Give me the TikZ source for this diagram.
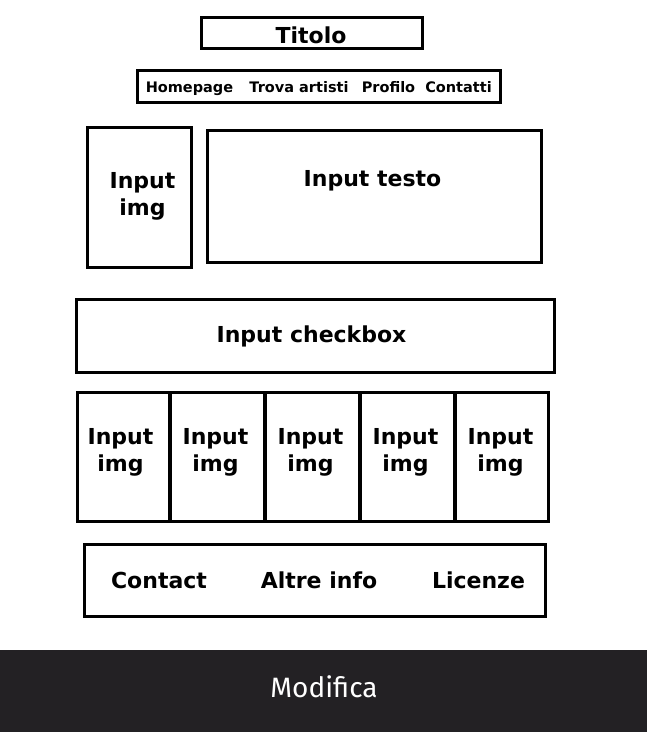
\documentclass[tikz,border=0pt]{standalone}
\usepackage{fontspec}
\setmainfont{DejaVu Sans}
\newfontfamily\btnfont{Fira Sans}
\usetikzlibrary{positioning}
\definecolor{bar}{RGB}{35,33,36}
\tikzset{
    % frame of a block
    box/.style={
        draw=black,
        line width=3.4pt,
        inner sep=0pt,
    },
    % big bold label
    lbl/.style={
        font=\fontsize{22}{27}\selectfont\bfseries,
        align=center,
        inner sep=0pt,
        anchor=base,
    },
    % menu entry
    navlbl/.style={
        font=\fontsize{14.5}{17}\selectfont\bfseries,
        inner sep=0pt,
        anchor=base,
    },
}

\begin{document}
\begin{tikzpicture}[x=1pt, y=-1pt]
    \useasboundingbox (0,0) rectangle (647,732);

    % Header
    \node[box, minimum width=221pt, minimum height=31pt] (title) at (312,33) {};
    \node[lbl] (titlelbl) at (311,43) {Titolo};

    \node[box, minimum width=363pt, minimum height=32pt] (nav) at (319,86.5) {};
    \node[navlbl] (home) at (189.5,92) {Homepage};
    \node[navlbl] (artisti) at (299,92) {Trova artisti};
    \node[navlbl] (profilo) at (388.5,92) {Profilo};
    \node[navlbl] (contatti) at (458.5,92) {Contatti};

    % Image and text inputs
    \node[box, minimum width=104pt, minimum height=140pt] (img) at (139.5,197.5) {};
    \node[lbl] (imglbl) at (142.5,215) {Input\\img};

    \node[box, minimum width=334pt, minimum height=132pt] (testo) at (374.5,196.5) {};
    \node[lbl] (testolbl) at (372.5,186) {Input testo};

    \node[box, minimum width=478pt, minimum height=73pt] (check) at (315.5,336) {};
    \node[lbl] (checklbl) at (311.5,342) {Input checkbox};

    % Row of images
    \foreach \l/\r/\t [count=\i] in {77.5/170/120.5, 170/265/215.5, 265/360/310.5,
                                     360/455/405.5, 455/548.5/500.5} {
        \node[box, minimum width={(\r-\l)*1pt}, minimum height=129pt]
            (cell\i) at ({(\l+\r)/2},457) {};
        \node[lbl] (cell\i lbl) at (\t,471) {Input\\img};
    }

    % Footer
    \node[box, minimum width=461pt, minimum height=72pt] (foot) at (315,580.5) {};
    \node[lbl] (contact) at (159,588) {Contact};
    \node[lbl] (altre) at (319,588) {Altre info};
    \node[lbl] (licenze) at (478.5,588) {Licenze};

    % Button
    \node[fill=bar, minimum width=647pt, minimum height=82pt, inner sep=0pt] (btn) at (323.5,691) {};
    \node[font=\btnfont\fontsize{28}{32}\selectfont, text=white, inner sep=0pt, anchor=base] (btnlbl) at (324,697) {Modifica};
\end{tikzpicture}
\end{document}
